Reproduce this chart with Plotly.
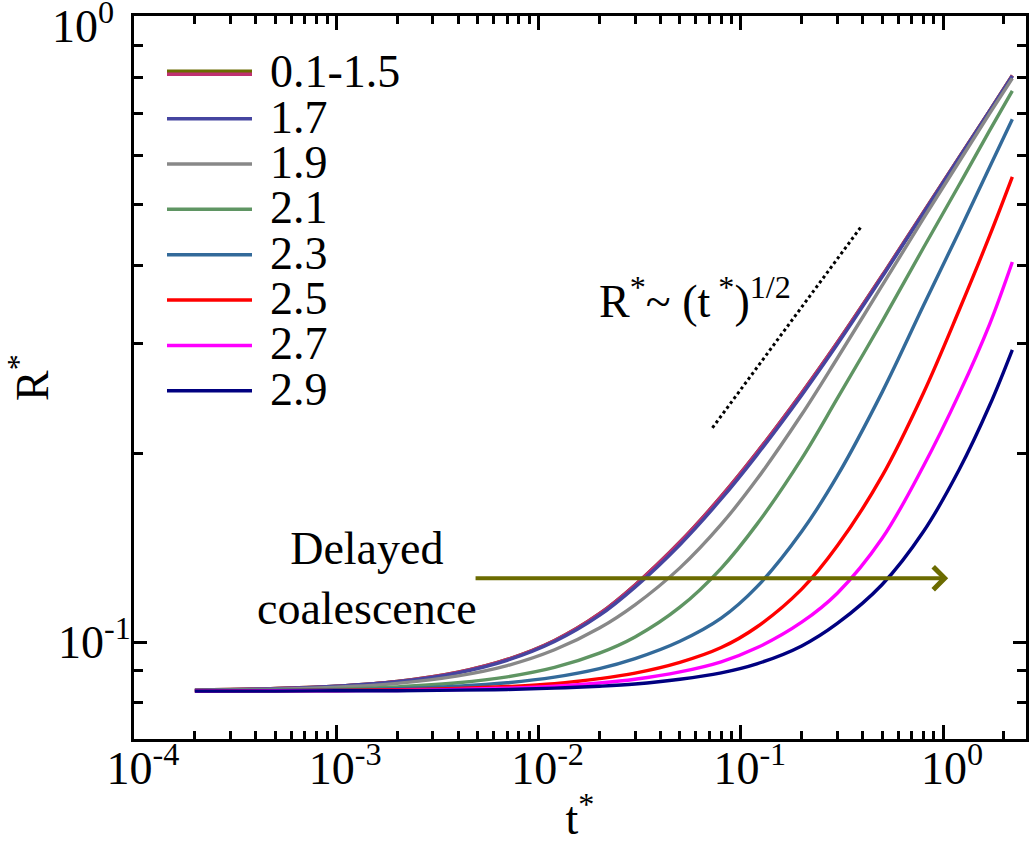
import math
import plotly.graph_objects as go

# ---------------- data ----------------
t = [2e-4, 5e-4, 1e-3, 2e-3, 4e-3, 7e-3, 0.012, 0.02, 0.03, 0.05, 0.08, 0.12, 0.2, 0.3, 0.5, 0.8, 1.2, 1.7, 2.2]
r_01_15 = [0.0838, 0.0843, 0.0850, 0.0865, 0.0895, 0.0938, 0.1006, 0.1110, 0.1234, 0.1445, 0.1709, 0.2008,
           0.2501, 0.3011, 0.3853, 0.4864, 0.5948, 0.7071, 0.8045]
r_17 = [0.0838, 0.0842, 0.0850, 0.0864, 0.0893, 0.0935, 0.1002, 0.1103, 0.1224, 0.1431, 0.1693, 0.1990,
        0.2481, 0.2991, 0.3834, 0.4848, 0.5938, 0.7059, 0.8031]
r_19 = [0.0837, 0.0841, 0.0847, 0.0859, 0.0883, 0.0917, 0.0972, 0.1053, 0.1147, 0.1314, 0.1542, 0.1820,
        0.2310, 0.2842, 0.3715, 0.4756, 0.5857, 0.6998, 0.7960]
r_21 = [0.0836, 0.0838, 0.0841, 0.0848, 0.0861, 0.0880, 0.0911, 0.0960, 0.1019, 0.1137, 0.1312, 0.1542,
        0.1964, 0.2451, 0.3256, 0.4268, 0.5376, 0.6573, 0.7600]
r_23 = [0.0836, 0.0837, 0.0839, 0.0842, 0.0850, 0.0861, 0.0879, 0.0907, 0.0941, 0.1003, 0.1092, 0.1225,
        0.1502, 0.1843, 0.2509, 0.3450, 0.4528, 0.5745, 0.6848]
r_25 = [0.0835, 0.0836, 0.0837, 0.0839, 0.0843, 0.0849, 0.0858, 0.0874, 0.0892, 0.0928, 0.0980, 0.1057,
        0.1215, 0.1425, 0.1843, 0.2501, 0.3391, 0.4462, 0.5540]
r_27 = [0.0835, 0.0836, 0.0836, 0.0837, 0.0840, 0.0844, 0.0850, 0.0860, 0.0872, 0.0896, 0.0930, 0.0979,
        0.1076, 0.1197, 0.1465, 0.1912, 0.2493, 0.3223, 0.4050]
r_29 = [0.0835, 0.0835, 0.0836, 0.0836, 0.0838, 0.0840, 0.0844, 0.0850, 0.0857, 0.0872, 0.0893, 0.0923,
        0.0986, 0.1071, 0.1236, 0.1502, 0.1885, 0.2390, 0.2932]

labels = ["0.1-1.5", "1.7", "1.9", "2.1", "2.3", "2.5", "2.7", "2.9"]
series = [r_01_15, r_17, r_19, r_21, r_23, r_25, r_27, r_29]
colors = ["#c03070", "#4545a0", "#888888", "#5f9563", "#336a9a", "#ff0000", "#ff00ff", "#000080"]
group_under_color = "#6b6b00"

guide_t = [0.0724, 0.396]
guide_r = [0.220, 0.4625]

arrow_t = [0.0048, 1.06]
arrow_r = 0.1265

x_tick_vals = [1e-4, 1e-3, 1e-2, 1e-1, 1e0]
x_tick_text = ["10<sup>-4</sup>", "10<sup>-3</sup>", "10<sup>-2</sup>", "10<sup>-1</sup>", "10<sup>0</sup>"]
y_tick_vals = [1e-1, 1e0]
y_tick_text = ["10<sup>-1</sup>", ""]
y_top_label = "10<sup>0</sup>"

# ---------------- layout geometry ----------------
W, H = 1030, 844
ML, MR, MT, MB = 134, 4, 16, 105
PW, PH = W - ML - MR, H - MT - MB


def px(x):
    return (x - ML) / PW


def py(y):
    return (H - MB - y) / PH


FONT = "Liberation Serif, Times New Roman, serif"
FS = 46

fig = go.Figure()

# overlapped group 0.1-1.5 (underlay)
fig.add_trace(go.Scatter(x=t, y=r_01_15, mode="lines", line=dict(color=group_under_color, width=3.4, shape="spline"),
                         showlegend=False, hoverinfo="skip"))
for lab, ys, col in zip(labels, series, colors):
    fig.add_trace(go.Scatter(x=t, y=ys, mode="lines", name=lab,
                             line=dict(color=col, width=3.4, shape="spline"), showlegend=False))

fig.add_trace(go.Scatter(x=guide_t, y=guide_r, mode="lines",
                         line=dict(color="black", width=3, dash="dot"), showlegend=False, hoverinfo="skip"))

# ---------------- minor ticks ----------------
x_minor = [m * 10 ** e for e in range(-4, 1) for m in range(2, 10) if m * 10 ** e <= 2.57]
y_minor = [m * 10 ** e for e in range(-2, 0) for m in range(2, 10) if 0.07 < m * 10 ** e < 1.0]

axis_common = dict(showline=True, linecolor="black", linewidth=3, mirror="ticks", ticks="inside",
                   tickwidth=3, tickcolor="black", showgrid=False, zeroline=False,
                   tickfont=dict(family=FONT, size=FS, color="black"))

fig.update_xaxes(type="log", range=[-4.0, 0.41], tickmode="array", tickvals=x_tick_vals, ticktext=x_tick_text,
                 ticklen=14, ticklabelshift=9, ticklabelstandoff=-13,
                 minor=dict(tickmode="array", tickvals=x_minor, ticks="inside", ticklen=8, tickwidth=3,
                            tickcolor="black", showgrid=False),
                 title=dict(text="t<sup>*</sup>", font=dict(family=FONT, size=FS, color="black"), standoff=12),
                 **axis_common)
fig.update_yaxes(type="log", range=[math.log10(0.07), 0.0006], tickmode="array", tickvals=y_tick_vals,
                 ticktext=y_tick_text, ticklen=13, ticklabelstandoff=-9,
                 minor=dict(tickmode="array", tickvals=y_minor, ticks="inside", ticklen=9, tickwidth=3,
                            tickcolor="black", showgrid=False),
                 title=dict(text="R<sup>*</sup>", font=dict(family=FONT, size=FS, color="black"), standoff=0),
                 **axis_common)

# ---------------- manual legend ----------------
shapes = []
annotations = []
row0, drow = 73.3, 45.35
for i, (lab, col) in enumerate(zip(labels, colors)):
    yy = row0 + i * drow
    if i == 0:
        shapes.append(dict(type="line", xref="paper", yref="paper", x0=px(167), x1=px(252),
                           y0=py(yy - 2), y1=py(yy - 2), line=dict(color=group_under_color, width=3.5)))
        yy_line = yy + 1
    else:
        yy_line = yy
    shapes.append(dict(type="line", xref="paper", yref="paper", x0=px(167), x1=px(252),
                       y0=py(yy_line), y1=py(yy_line), line=dict(color=col, width=3.5)))
    annotations.append(dict(text=lab, xref="paper", yref="paper", x=px(268), y=py(yy - 2),
                            xanchor="left", yanchor="middle", showarrow=False, height=42,
                            font=dict(family=FONT, size=FS, color="black")))

# top y tick label (placed as in the reference, just inside the figure)
annotations.append(dict(text=y_top_label, xref="paper", yref="paper", x=px(116), y=py(23),
                        xanchor="right", yanchor="middle", showarrow=False,
                        font=dict(family=FONT, size=FS, color="black")))

# arrow "Delayed coalescence"
annotations.append(dict(x=math.log10(arrow_t[1]), y=math.log10(arrow_r), ax=math.log10(arrow_t[0]),
                        ay=math.log10(arrow_r), xref="x", yref="y", axref="x", ayref="y", text="",
                        showarrow=True, arrowhead=4, arrowsize=1.1, arrowwidth=4, arrowcolor=group_under_color,
                        standoff=0, startstandoff=0))
annotations.append(dict(text="Delayed<br>coalescence", xref="paper", yref="paper", x=px(367), y=py(578),
                        xanchor="center", yanchor="middle", showarrow=False, align="center",
                        font=dict(family=FONT, size=FS, color="black")))
annotations.append(dict(text="R<sup>*</sup>~ (t<sup> *</sup>)<sup>1/2</sup>", xref="paper", yref="paper",
                        x=px(597), y=py(298), xanchor="left", yanchor="middle", showarrow=False,
                        font=dict(family=FONT, size=FS, color="black")))

fig.update_layout(width=W, height=H, margin=dict(l=ML, r=MR, t=MT, b=MB, autoexpand=False),
                  paper_bgcolor="white", plot_bgcolor="white", shapes=shapes, annotations=annotations,
                  font=dict(family=FONT, size=FS, color="black"), showlegend=False)

fig.write_html("out.html", config={"displayModeBar": False},
               post_script="document.body.style.margin='0';")
